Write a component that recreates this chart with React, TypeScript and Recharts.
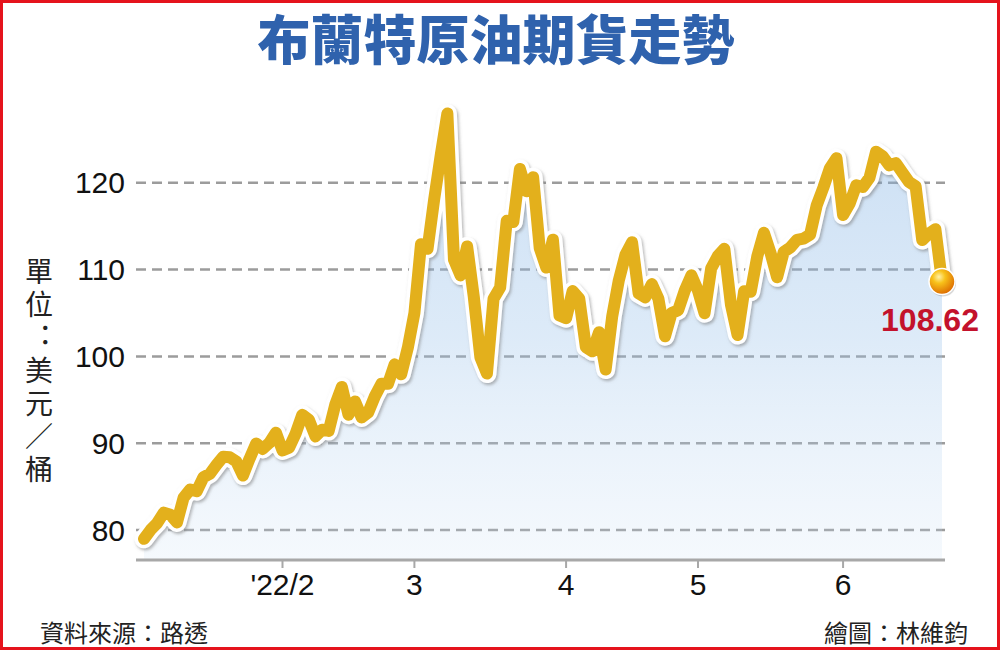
import { ComposedChart, Area, Line, XAxis, YAxis, CartesianGrid } from "recharts";

// trading days per month (2022) and Brent settle prices
const janDays = [3, 4, 5, 6, 7, 10, 11, 12, 13, 14, 17, 18, 19, 20, 21, 24, 25, 26, 27, 28, 31];
const janPrices = [78.98, 80.0, 80.8, 81.99, 81.75, 80.87, 83.72, 84.67, 84.47, 86.06, 86.48, 87.51, 88.44, 88.38, 87.89, 86.27, 88.2, 89.96, 89.34, 90.03, 91.21];

const febDays = [1, 2, 3, 4, 7, 8, 9, 10, 11, 14, 15, 16, 17, 18, 21, 22, 23, 24, 25, 28];
const febPrices = [89.16, 89.47, 91.11, 93.27, 92.69, 90.78, 91.55, 91.41, 94.44, 96.48, 93.28, 94.81, 92.97, 93.54, 95.39, 96.84, 96.84, 99.08, 97.93, 100.99];

const marDays = [1, 2, 3, 4, 7, 8, 9, 10, 11, 14, 15, 16, 17, 18, 21, 22, 23, 24, 25, 28, 29, 30, 31];
const marPrices = [104.97, 112.93, 112.4, 118.11, 123.21, 127.98, 111.14, 109.33, 112.67, 106.9, 99.91, 98.02, 106.64, 107.93, 115.62, 115.48, 121.6, 119.03, 120.65, 112.48, 110.23, 113.45, 104.71];

const aprDays = [1, 4, 5, 6, 7, 8, 11, 12, 13, 14, 18, 19, 20, 21, 22, 25, 26, 27, 28, 29];
const aprPrices = [104.39, 107.53, 106.64, 101.07, 100.58, 102.78, 98.48, 104.64, 108.78, 111.7, 113.16, 107.25, 106.8, 108.33, 106.65, 102.32, 104.99, 105.32, 107.59, 109.34];

const mayDays = [2, 3, 4, 5, 6, 9, 10, 11, 12, 13, 16, 17, 18, 19, 20, 23, 24, 25, 26, 27, 30, 31];
const mayPrices = [107.58, 104.97, 110.14, 111.55, 112.39, 105.94, 102.46, 107.51, 107.45, 111.55, 114.24, 111.93, 109.11, 112.04, 112.55, 113.42, 113.56, 114.03, 117.4, 119.43, 121.67, 122.84];

const junDays = [1, 2, 3, 6, 7, 8, 9, 10, 13, 14, 15, 16, 17, 20, 21, 22];
const junPrices = [116.29, 117.61, 119.72, 119.51, 120.57, 123.58, 123.07, 122.01, 122.27, 121.17, 120.1, 119.6, 113.4, 114.13, 114.65, 108.62];

const xTicks = ["2/1", "3/1", "4/1", "5/2", "6/1"];
const xTickLabels = ["'22/2", "3", "4", "5", "6"];
const yTicks = [80, 90, 100, 110, 120];

const months: [number, number[], number[]][] = [
  [1, janDays, janPrices],
  [2, febDays, febPrices],
  [3, marDays, marPrices],
  [4, aprDays, aprPrices],
  [5, mayDays, mayPrices],
  [6, junDays, junPrices],
];

const data = months.flatMap(([m, days, prices]) =>
  days.map((d, i) => ({ date: `${m}/${d}`, price: prices[i] }))
);
const lastIndex = data.length - 1;

const numFont = "'Liberation Sans', Arial, sans-serif";
const cjkFont = "'Noto Sans CJK TC', 'Noto Sans CJK SC', sans-serif";

const EndDot = (props: any) => {
  const { cx, cy, index } = props;
  if (index !== lastIndex) return <g key={`d${index}`} />;
  return (
    <g key="end">
      <circle cx={cx + 1} cy={cy + 2} r={13} fill="#000" opacity={0.15} />
      <circle cx={cx} cy={cy} r={13} fill="url(#ballGrad)" stroke="#fff" strokeWidth={1.5} />
      <text
        x={cx - 12}
        y={cy + 49}
        textAnchor="middle"
        fontFamily={numFont}
        fontWeight="bold"
        fontSize={32}
        fill="#c3122c"
      >
        {data[lastIndex].price.toFixed(2)}
      </text>
    </g>
  );
};

export default function App() {
  return (
    <div style={{ position: "relative", width: 1000, height: 650, background: "#fff", overflow: "hidden" }}>
      <style>{`body{margin:0}`}</style>
      <div style={{ position: "absolute", left: 0, top: 0 }}>
        <ComposedChart
          width={1000}
          height={650}
          data={data}
          margin={{ top: 96, right: 55, left: 0, bottom: 50 }}
        >
          <defs>
            <linearGradient id="areaGrad" x1="0" y1="0" x2="0" y2="1">
              <stop offset="0%" stopColor="#7dafe3" stopOpacity={0.68} />
              <stop offset="50%" stopColor="#98c1ea" stopOpacity={0.55} />
              <stop offset="100%" stopColor="#cadff4" stopOpacity={0.32} />
            </linearGradient>
            <radialGradient id="ballGrad" cx="38%" cy="32%" r="70%">
              <stop offset="0%" stopColor="#fff1a8" />
              <stop offset="35%" stopColor="#f8c21a" />
              <stop offset="100%" stopColor="#dc6a00" />
            </radialGradient>
            <filter id="lineShadow" x="-5%" y="-5%" width="110%" height="110%">
              <feDropShadow dx="1.5" dy="2" stdDeviation="1.5" floodColor="#777" floodOpacity="0.55" />
            </filter>
          </defs>
          <CartesianGrid
            vertical={false}
            syncWithTicks
            stroke="#9c9c9c"
            strokeWidth={2.5}
            strokeDasharray="10 6"
          />
          <XAxis
            dataKey="date"
            ticks={xTicks}
            interval={0}
            tickFormatter={(v: string) => xTickLabels[xTicks.indexOf(v)] ?? ""}
            height={40}
            padding={{ left: 8, right: 3 }}
            axisLine={{ stroke: "#a8a8a8", strokeWidth: 3 }}
            tickLine={{ stroke: "#a8a8a8", strokeWidth: 2 }}
            tickSize={8}
            tickMargin={6}
            tick={{ fontSize: 30, fill: "#111", fontFamily: numFont }}
          />
          <YAxis
            type="number"
            domain={[76.54, 130]}
            ticks={yTicks}
            width={136}
            axisLine={false}
            tickLine={false}
            tickSize={0}
            tickMargin={11}
            tick={{ fontSize: 30, fill: "#111", fontFamily: numFont }}
          />
          <Area
            type="linear"
            dataKey="price"
            stroke="none"
            fill="url(#areaGrad)"
            isAnimationActive={false}
          />
          <Line
            type="linear"
            dataKey="price"
            stroke="#ffffff"
            strokeWidth={19}
            strokeLinejoin="round"
            strokeLinecap="round"
            filter="url(#lineShadow)"
            dot={false}
            activeDot={false}
            isAnimationActive={false}
          />
          <Line
            type="linear"
            dataKey="price"
            stroke="#e3b01c"
            strokeWidth={12}
            strokeLinejoin="round"
            strokeLinecap="round"
            dot={EndDot}
            activeDot={false}
            isAnimationActive={false}
          />
        </ComposedChart>
      </div>

      <div
        style={{
          position: "absolute",
          top: 4,
          left: 0,
          width: 992,
          textAlign: "center",
          fontFamily: cjkFont,
          fontWeight: 900,
          fontSize: 53,
          lineHeight: "66px",
          color: "#2f62ad",
        }}
      >
        布蘭特原油期貨走勢
      </div>

      <div
        style={{
          position: "absolute",
          left: 22,
          top: 257,
          width: 34,
          writingMode: "vertical-rl",
          textOrientation: "upright",
          fontFeatureSettings: '"vert" 0, "vrt2" 0',
          letterSpacing: 5,
          fontFamily: cjkFont,
          fontSize: 28,
          lineHeight: "34px",
          color: "#222",
        }}
      >
        單位：美元／桶
      </div>

      <div
        style={{
          position: "absolute",
          left: 40,
          top: 617,
          fontFamily: cjkFont,
          fontSize: 24,
          lineHeight: "30px",
          color: "#222",
        }}
      >
        資料來源：路透
      </div>
      <div
        style={{
          position: "absolute",
          right: 32,
          top: 617,
          fontFamily: cjkFont,
          fontSize: 24,
          lineHeight: "30px",
          color: "#222",
        }}
      >
        繪圖：林維鈞
      </div>

      <div
        style={{
          position: "absolute",
          left: 0,
          top: 0,
          width: 1000,
          height: 650,
          boxSizing: "border-box",
          border: "3px solid #e5131d",
          pointerEvents: "none",
        }}
      />
    </div>
  );
}
